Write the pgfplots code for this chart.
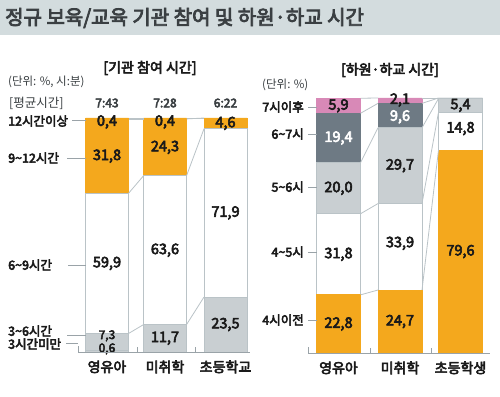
\documentclass[border=0pt]{standalone}
\usepackage{pgfplots}
\pgfplotsset{compat=1.18}
\usepackage{fontspec}
\setmainfont{Noto Sans CJK KR}[AutoFakeBold=4]
\definecolor{bandc}{HTML}{D3DCDE}
\definecolor{orng}{HTML}{F4A81D}
\definecolor{lgry}{HTML}{C9CFD2}
\definecolor{dgry}{HTML}{6E7A84}
\definecolor{pnk}{HTML}{D889B7}
\definecolor{edge}{HTML}{BAC3C7}
\definecolor{txt}{HTML}{1A1A1A}
\definecolor{ttl}{HTML}{3A3F42}
\definecolor{lab}{HTML}{9AA3A8}
\newcommand{\fs}[1]{\fontsize{#1}{#1}\selectfont}
\pgfplotsset{
  panel/.style={anchor=south west,scale only axis,ymin=0,ymax=100,clip=false},
  barpanel/.style={panel,ybar stacked,axis line style={draw=none},ytick=\empty,
    major tick length=0pt,
    xticklabel style={font=\bfseries\fs{14},text=txt,yshift=-5pt}},
  conn/.style={edge,line width=0.8pt,no marks},
  seg/.style={draw=edge,line width=0.8pt},
}
\tikzset{vl/.style={font=\bfseries\fs{14.5},text=txt,inner sep=0pt}}
\begin{document}
\begin{tikzpicture}
\useasboundingbox (0,0) rectangle (500pt,396pt);
\fill[white] (0,0) rectangle (500pt,396pt);
\fill[bandc] (0,{396pt-35pt}) rectangle (500pt,396pt);

% ---------------- left panel: bars ----------------
\begin{axis}[barpanel,at={(77pt,44pt)},width=173pt,height=234pt,
  xmin=77,xmax=250,bar width=43,
  xtick={107,165,225.5},xticklabels={영유아,미취학,초등학교}]
\addplot[seg,fill=lgry] coordinates {(107,0.6)(165,0)(225.5,0)};
\addplot[seg,fill=lgry] coordinates {(107,7.3)(165,11.7)(225.5,23.5)};
\addplot[seg,fill=white] coordinates {(107,59.9)(165,63.6)(225.5,71.9)};
\addplot[seg,fill=orng,draw=orng] coordinates {(107,31.8)(165,24.3)(225.5,4.6)};
\addplot[seg,fill=orng,draw=orng] coordinates {(107,0.4)(165,0.4)(225.5,0)};
\end{axis}
% ---------------- left panel: connectors and values ----------------
\begin{axis}[panel,hide axis,at={(77pt,44pt)},width=173pt,height=234pt,xmin=77,xmax=250]
\addplot[conn] coordinates {(128.5,7.9)(143.5,11.7)};
\addplot[conn] coordinates {(128.5,67.8)(143.5,75.3)};
\addplot[conn] coordinates {(128.5,99.6)(143.5,99.6)};
\addplot[conn] coordinates {(128.5,100)(143.5,100)};
\addplot[conn] coordinates {(186.5,11.7)(204,23.5)};
\addplot[conn] coordinates {(186.5,75.3)(204,95.4)};
\addplot[conn] coordinates {(186.5,99.6)(204,100)};
\addplot[conn] coordinates {(186.5,100)(204,100)};
\node[vl] at (axis cs:107,98.3) {0,4};
\node[vl] at (axis cs:107,83.7) {31,8};
\node[vl] at (axis cs:107,37.85) {59,9};
\node[vl,font=\bfseries\fs{12}] at (axis cs:107,6.9) {7,3};
\node[vl,font=\bfseries\fs{12}] at (axis cs:107,1.3) {0,6};
\node[vl] at (axis cs:165,98.3) {0,4};
\node[vl] at (axis cs:165,87.45) {24,3};
\node[vl] at (axis cs:165,43.5) {63,6};
\node[vl] at (axis cs:165,5.85) {11,7};
\node[vl] at (axis cs:225.5,97.7) {4,6};
\node[vl] at (axis cs:225.5,59.45) {71,9};
\node[vl] at (axis cs:225.5,11.75) {23,5};
\end{axis}

% ---------------- right panel: bars ----------------
\begin{axis}[barpanel,at={(307pt,43pt)},width=183pt,height=255pt,
  xmin=307,xmax=490,bar width=44,
  xtick={338.5,400,460.5},xticklabels={영유아,미취학,초등학생}]
\addplot[seg,fill=orng,draw=orng] coordinates {(338.5,22.8)(400,24.7)(460.5,79.6)};
\addplot[seg,fill=white] coordinates {(338.5,31.8)(400,33.9)(460.5,14.8)};
\addplot[seg,fill=lgry] coordinates {(338.5,20.0)(400,29.7)(460.5,5.4)};
\addplot[seg,fill=dgry,draw=dgry] coordinates {(338.5,19.4)(400,9.6)(460.5,0.2)};
\addplot[seg,fill=pnk,draw=pnk] coordinates {(338.5,5.9)(400,2.1)(460.5,0)};
\end{axis}
% ---------------- right panel: connectors and values ----------------
\begin{axis}[panel,hide axis,at={(307pt,43pt)},width=183pt,height=255pt,xmin=307,xmax=490]
\addplot[conn] coordinates {(360.5,22.8)(378,24.7)};
\addplot[conn] coordinates {(360.5,54.6)(378,58.6)};
\addplot[conn] coordinates {(360.5,74.6)(378,88.3)};
\addplot[conn] coordinates {(360.5,94.0)(378,97.9)};
\addplot[conn] coordinates {(360.5,99.9)(378,100)};
\addplot[conn] coordinates {(422,24.7)(438.5,79.6)};
\addplot[conn] coordinates {(422,58.6)(438.5,94.4)};
\addplot[conn] coordinates {(422,88.3)(438.5,99.8)};
\addplot[conn] coordinates {(422,97.9)(438.5,100)};
\addplot[conn] coordinates {(422,100)(438.5,100)};
\node[vl] at (axis cs:338.5,96.95) {5,9};
\node[vl,text=white] at (axis cs:338.5,84.3) {19,4};
\node[vl] at (axis cs:338.5,64.6) {20,0};
\node[vl] at (axis cs:338.5,38.7) {31,8};
\node[vl] at (axis cs:338.5,11.4) {22,8};
\node[vl] at (axis cs:400,99.2) {2,1};
\node[vl,text=white] at (axis cs:400,92.6) {9,6};
\node[vl] at (axis cs:400,73.45) {29,7};
\node[vl] at (axis cs:400,43) {33,9};
\node[vl] at (axis cs:400,12.35) {24,7};
\node[vl] at (axis cs:460.5,97.1) {5,4};
\node[vl] at (axis cs:460.5,88) {14,8};
\node[vl] at (axis cs:460.5,39.8) {79,6};
\end{axis}

% ---------------- text and decorations (pixel coordinates) ----------------
\begin{scope}[x=1pt,y=-1pt,shift={(0,396pt)}]
\node[anchor=west,font=\bfseries\fs{20},text=ttl,inner sep=0pt] at (5,18) {정규 보육/교육 기관 참여 및 하원·하교 시간};
% left panel
\node[font=\bfseries\fs{14},text=txt,inner sep=0pt] at (150,68) {[기관 참여 시간]};
\node[anchor=west,font=\fs{11.5},text=ttl,inner sep=0pt] at (8,82) {(단위: \%, 시:분)};
\node[anchor=west,font=\fs{12.5},text=ttl,inner sep=0pt] at (9,103) {[평균시간]};
\node[font=\bfseries\fs{12},text=ttl,inner sep=0pt] at (107,103) {7:43};
\node[font=\bfseries\fs{12},text=ttl,inner sep=0pt] at (165,103) {7:28};
\node[font=\bfseries\fs{12},text=ttl,inner sep=0pt] at (225.5,103) {6:22};
\foreach \t/\y in {12시간이상/121,9\textasciitilde12시간/158,6\textasciitilde9시간/265,3\textasciitilde6시간/331,3시간미만/344}
  \node[anchor=west,font=\bfseries\fs{12.5},text=txt,inner sep=0pt] at (8,\y) {\t};
\draw[lab,line width=0.8pt] (72,120)--(85.5,120);
\draw[lab,line width=0.8pt] (67,158)--(85.5,158);
\draw[lab,line width=0.8pt] (68,265)--(85.5,265);
\draw[lab,line width=0.8pt] (67,335)--(85.5,335);
\draw[lab,line width=0.8pt] (66,343)--(78,343);
\draw[lab,line width=1pt] (78,346)--(78,352)--(250,352);
\draw[lab,line width=1pt] (137,347)--(137,352);
\draw[lab,line width=1pt] (195,347)--(195,352);
% right panel
\node[font=\bfseries\fs{14},text=txt,inner sep=0pt] at (390,70) {[하원·하교 시간]};
\node[anchor=west,font=\fs{11.5},text=ttl,inner sep=0pt] at (262,85) {(단위: \%)};
\foreach \t/\y in {7시이후/107,6\textasciitilde7시/134,5\textasciitilde6시/187,4\textasciitilde5시/252,4시이전/320}
  \node[anchor=east,font=\bfseries\fs{12.5},text=txt,inner sep=0pt] at (304,\y) {\t};
\foreach \y in {107,134,187,252,320}
  \draw[lab,line width=0.8pt] (308,\y)--(316.5,\y);
\draw[lab,line width=1pt] (308,347)--(308,353)--(490,353);
\draw[lab,line width=1pt] (370,348)--(370,353);
\draw[lab,line width=1pt] (431,348)--(431,353);
\end{scope}
\end{tikzpicture}
\end{document}
